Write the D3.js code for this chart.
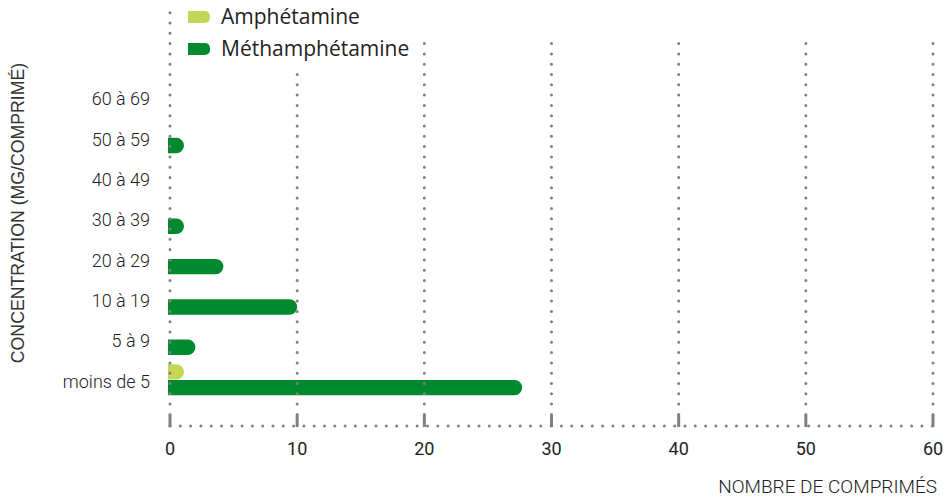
<!DOCTYPE html>
<html><head><meta charset="utf-8">
<script src="https://cdn.jsdelivr.net/npm/d3@7"></script>
<style>body{margin:0;background:#fff;} svg{display:block}</style>
</head><body><svg id="c" width="950" height="497"></svg>
<script>
const categories = ["60 à 69","50 à 59","40 à 49","30 à 39","20 à 29","10 à 19","5 à 9","moins de 5"];
const seriesNames = ["Amphétamine","Méthamphétamine"];
const amphetamine = [0,0,0,0,0,0,0,1.1];
const methamphetamine = [0,1.1,0,1.1,4.2,10,2,27.7];
const xTicks = [0,10,20,30,40,50,60];
const xTitle = "NOMBRE DE COMPRIMÉS";
const yTitle = "CONCENTRATION (MG/COMPRIMÉ)";
const colors = ["#c4d656","#00892f"];

const svg = d3.select("#c");
const x = d3.scaleLinear().domain([0,60]).range([170,933]);
const y = d3.scaleBand().domain(categories).range([77.2,399.9]).padding(0);
const groupH = 31.2;
const ySub = d3.scaleBand().domain(seriesNames).range([0,groupH]).paddingInner(0.02);
const bottomY = 426;
const gridGrey = "#808080";

function pill(x0,x1,yy,h){
  const r = Math.min(h/2, x1-x0);
  return `M${x0},${yy}H${x1-r}A${r},${r} 0 0 1 ${x1-r},${yy+h}H${x0}Z`;
}
function swatch(x0,yy,w,h,r){
  return `M${x0},${yy}H${x0+w-r}A${r},${r} 0 0 1 ${x0+w},${yy+r}V${yy+h-r}A${r},${r} 0 0 1 ${x0+w-r},${yy+h}H${x0}Z`;
}

// bars
const seriesData = [amphetamine, methamphetamine];
const barData = [];
categories.forEach((c,i)=>{
  seriesNames.forEach((s,j)=>{
    const v = seriesData[j][i];
    if(v>0) barData.push({c,s,v,j});
  });
});
svg.append("g").selectAll("path").data(barData).join("path")
  .attr("d",d=>{
    const y0 = y(d.c) + (y.bandwidth()-groupH)/2 + ySub(d.s);
    return pill(x(0)-2, x(d.v), y0, ySub.bandwidth());
  })
  .attr("fill",d=>colors[d.j]);

// grid lines (dotted)
const grid = svg.append("g");
grid.selectAll("line.g").data(xTicks).join("line")
  .attr("class","g")
  .attr("x1",d=>x(d)).attr("x2",d=>x(d))
  .attr("y1",d=> d===0 ? 12.7 : 43.6)
  .attr("y2",418)
  .attr("stroke",gridGrey).attr("stroke-width",3)
  .attr("stroke-linecap","round").attr("stroke-dasharray","0 10.3");
// bottom dotted axis
grid.append("line")
  .attr("x1",x(0)).attr("x2",x(60)).attr("y1",bottomY).attr("y2",bottomY)
  .attr("stroke",gridGrey).attr("stroke-width",3)
  .attr("stroke-linecap","round").attr("stroke-dasharray","0 10.3");
// tick marks
grid.selectAll("line.t").data(xTicks).join("line")
  .attr("class","t")
  .attr("x1",d=>x(d)).attr("x2",d=>x(d))
  .attr("y1",bottomY-11).attr("y2",bottomY+1)
  .attr("stroke",gridGrey).attr("stroke-width",3);

// tick labels
svg.append("g").selectAll("text").data(xTicks).join("text")
  .attr("x",d=>x(d)).attr("y",455)
  .attr("text-anchor","middle")
  .attr("font-family","Roboto").attr("font-size",18).attr("fill","#222")
  .text(d=>d);

// category labels
svg.append("g").selectAll("text").data(categories).join("text")
  .attr("x",150).attr("y",d=>y(d)+y.bandwidth()/2+1.5)
  .attr("dy","0.35em")
  .attr("text-anchor","end")
  .attr("font-family","Roboto").attr("font-weight",300).attr("font-size",18).attr("fill","#222")
  .text(d=>d);

// axis titles
svg.append("text").attr("x",937).attr("y",493)
  .attr("text-anchor","end")
  .attr("font-family","Roboto").attr("font-weight",300).attr("font-size",19).attr("fill","#222")
  .text(xTitle);
svg.append("text")
  .attr("transform","translate(24,213) rotate(-90)")
  .attr("text-anchor","middle")
  .attr("font-family","Liberation Sans").attr("font-size",17.7).attr("fill","#333")
  .text(yTitle);

// legend (white background covering gridlines)
const lg = svg.append("g");
lg.append("rect").attr("x",180).attr("y",0).attr("width",236).attr("height",71).attr("fill","#fff");
const li = lg.selectAll("g").data(seriesNames).join("g")
  .attr("transform",(d,i)=>`translate(188,${11+i*32})`);
li.append("path").attr("d",swatch(0,0,22,12,5)).attr("fill",(d,i)=>colors[i]);
li.append("text").attr("x",33).attr("y",6).attr("dy","0.35em")
  .attr("font-family","Open Sans").attr("font-size",21).attr("fill","#222")
  .text(d=>d);
</script></body></html>
